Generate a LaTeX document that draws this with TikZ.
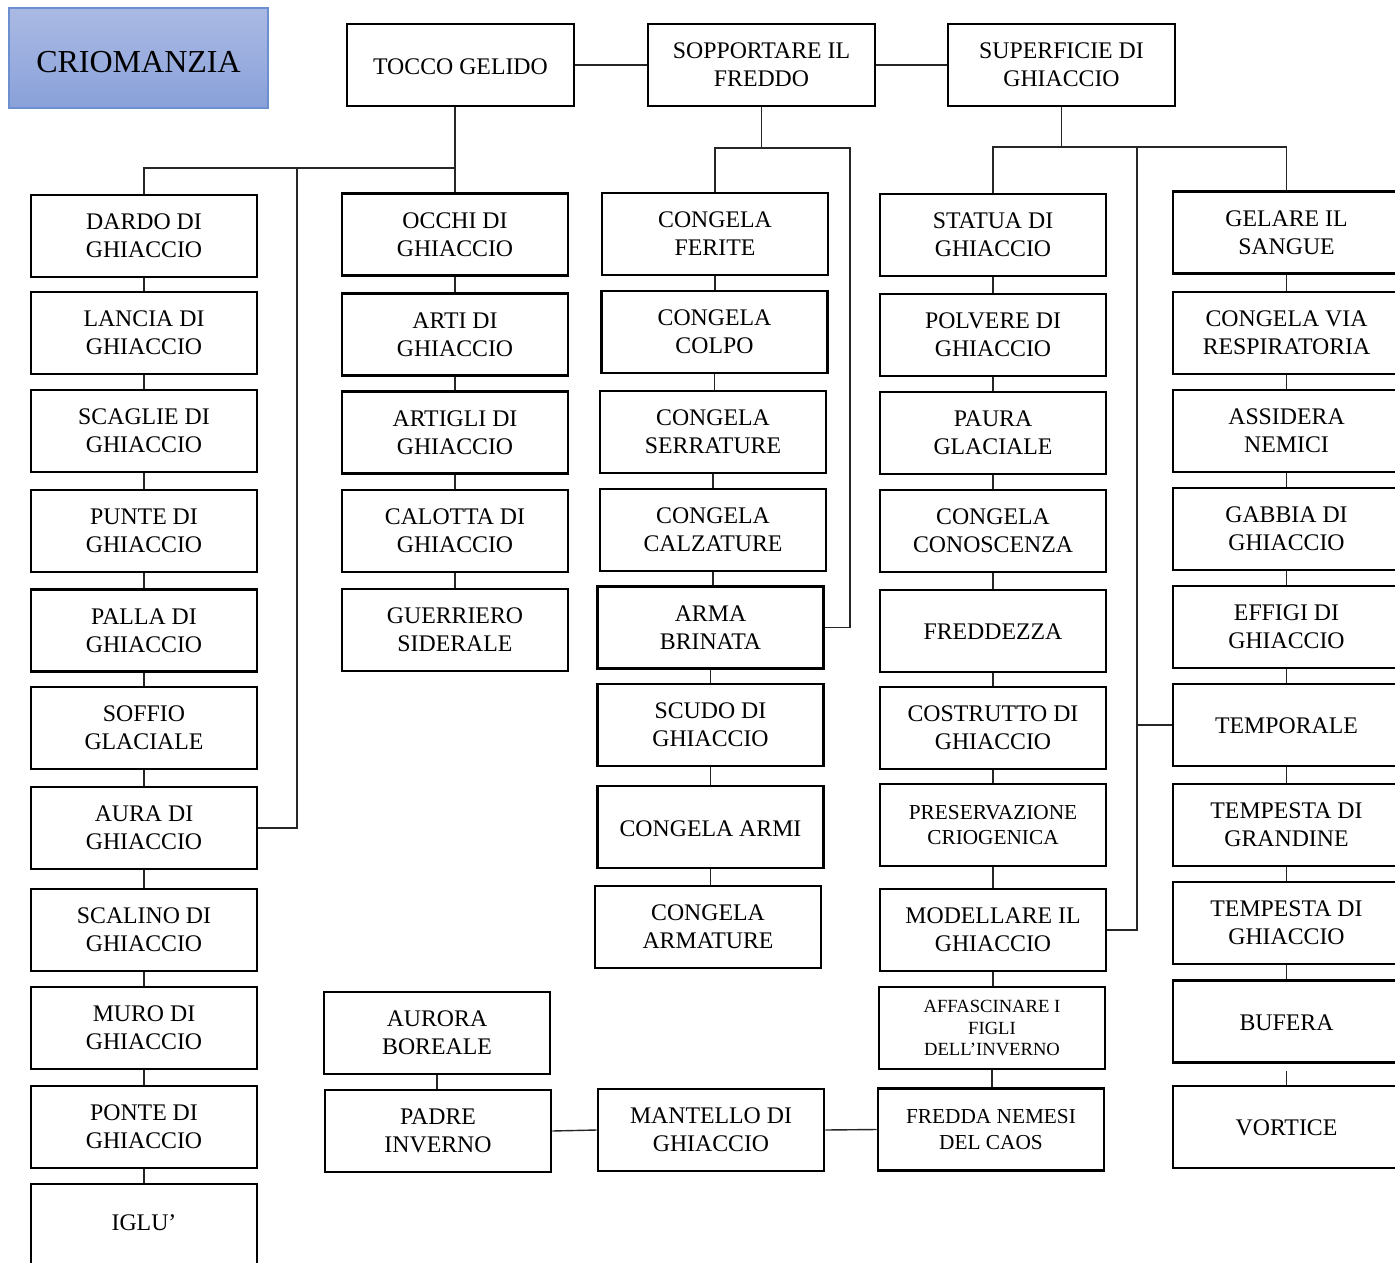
\documentclass[tikz,border=0pt]{standalone}
\usepackage{fontspec}
\setmainfont{Liberation Serif}
\usetikzlibrary{calc}
\definecolor{titletop}{RGB}{171,186,228}
\definecolor{titlebot}{RGB}{137,161,217}
\definecolor{titleline}{RGB}{108,143,208}
% move a one-line label up or down without changing its reported size
\newcommand{\nudge}[2]{\raisebox{#1}[\height][\depth]{#2}}
\begin{document}
\begin{tikzpicture}[x=1pt,y=-1pt,
  box/.style={draw=black, line width=2.6pt, fill=white, minimum width=226pt,
    minimum height=82pt, inner sep=0pt, align=center,
    font=\fontsize{23.8}{28}\selectfont},
  smallbox/.style={box, font=\fontsize{21.3}{25.5}\selectfont},
  tinybox/.style={box, font=\fontsize{18.6}{21.5}\selectfont},
  link/.style={draw=black!85, line width=1.4pt},
]
\clip (0,0) rectangle (1395,1263);
\fill[white] (0,0) rectangle (1395,1263);

% title
\node[draw=titleline, line width=1.2pt, top color=titletop, bottom color=titlebot,
  minimum width=259pt, minimum height=100pt, inner sep=0pt,
  font=\fontsize{32}{36}\selectfont] (title) at (138.5,58) {\nudge{-4pt}{CRIOMANZIA}};

% top row
\node[box, minimum width=227pt] (tocco) at (460.5,65) {\nudge{-1.5pt}{TOCCO GELIDO}};
\node[box, minimum width=227pt] (sopportare) at (761.5,65) {SOPPORTARE IL\\FREDDO};
\node[box, minimum width=227pt] (superficie) at (1061.5,65) {SUPERFICIE DI\\GHIACCIO};

% first column
\node[box] (dardo)   at (144,236)  {DARDO DI\\GHIACCIO};
\node[box] (lancia)  at (144,333)  {LANCIA DI\\GHIACCIO};
\node[box] (scaglie) at (144,431)  {SCAGLIE DI\\GHIACCIO};
\node[box] (punte)   at (144,531)  {PUNTE DI\\GHIACCIO};
\node[box] (palla)   at (144,630.5){PALLA DI\\GHIACCIO};
\node[box] (soffio)  at (144,728)  {SOFFIO\\GLACIALE};
\node[box] (aura)    at (144,828)  {AURA DI\\GHIACCIO};
\node[box] (scalino) at (144,930)  {SCALINO DI\\GHIACCIO};
\node[box] (muro)    at (144,1028) {MURO DI\\GHIACCIO};
\node[box] (ponte)   at (144,1127) {PONTE DI\\GHIACCIO};
\node[box] (iglu)    at (144,1225) {\nudge{2pt}{IGLU’}};

% second column
\node[box] (occhi)     at (455,234.5) {OCCHI DI\\GHIACCIO};
\node[box] (arti)      at (455,334.5) {ARTI DI\\GHIACCIO};
\node[box] (artigli)   at (455,432.5) {ARTIGLI DI\\GHIACCIO};
\node[box] (calotta)   at (455,531)   {CALOTTA DI\\GHIACCIO};
\node[box] (guerriero) at (455,630)   {GUERRIERO\\SIDERALE};

% third column
\node[box] (ferite)    at (715,234)   {CONGELA\\FERITE};
\node[box] (colpo)     at (714.5,332) {CONGELA\\COLPO};
\node[box] (serrature) at (713,432)   {CONGELA\\SERRATURE};
\node[box] (calzature) at (713,530)   {CONGELA\\CALZATURE};
\node[box] (arma)      at (710.5,627.5) {ARMA\\BRINATA};
\node[box] (scudo)     at (710.5,725) {SCUDO DI\\GHIACCIO};
\node[box] (armi)      at (710.5,827) {\nudge{-1.5pt}{CONGELA ARMI}};
\node[box] (armature)  at (708,927)   {CONGELA\\ARMATURE};

% fourth column
\node[box] (statua)      at (993,235)  {STATUA DI\\GHIACCIO};
\node[box] (polvere)     at (993,335)  {POLVERE DI\\GHIACCIO};
\node[box] (paura)       at (993,433)  {PAURA\\GLACIALE};
\node[box] (conoscenza)  at (993,531)  {CONGELA\\CONOSCENZA};
\node[box] (freddezza)   at (993,631)  {\nudge{-1pt}{FREDDEZZA}};
\node[box] (costrutto)   at (993,728)  {COSTRUTTO DI\\GHIACCIO};
\node[smallbox] (preserv) at (993,825) {PRESERVAZIONE\\CRIOGENICA};
\node[box] (modellare)   at (993,930)  {MODELLARE IL\\GHIACCIO};
\node[tinybox] (affascinare) at (992,1028) {AFFASCINARE I\\FIGLI\\DELL’INVERNO};
\node[smallbox] (nemesi) at (991,1129.5) {FREDDA NEMESI\\DEL CAOS};

% fifth column
\node[box, minimum width=227pt] (gelare)       at (1286.5,232.5) {GELARE IL\\SANGUE};
\node[box, minimum width=227pt] (respiratoria) at (1286.5,333)   {CONGELA VIA\\RESPIRATORIA};
\node[box, minimum width=227pt] (assidera)     at (1286.5,431)   {ASSIDERA\\NEMICI};
\node[box, minimum width=227pt] (gabbia)       at (1286.5,529)   {GABBIA DI\\GHIACCIO};
\node[box, minimum width=227pt] (effigi)       at (1286.5,627)   {EFFIGI DI\\GHIACCIO};
\node[box, minimum width=227pt] (temporale)    at (1286.5,725)   {\nudge{-1pt}{TEMPORALE}};
\node[box, minimum width=227pt] (grandine)     at (1286.5,825)   {TEMPESTA DI\\GRANDINE};
\node[box, minimum width=227pt] (tempesta)     at (1286.5,923)   {TEMPESTA DI\\GHIACCIO};
\node[box, minimum width=227pt] (bufera)       at (1286.5,1021.5){\nudge{-1pt}{BUFERA}};
\node[box, minimum width=227pt] (vortice)      at (1286.5,1127)  {\nudge{-1pt}{VORTICE}};

% bottom row
\node[box] (aurora)   at (437,1033) {AURORA\\BOREALE};
\node[box] (padre)    at (438,1131) {PADRE\\INVERNO};
\node[box] (mantello) at (711,1130) {MANTELLO DI\\GHIACCIO};

% bus levels
\coordinate (busT) at (0,168);
\coordinate (busS) at (0,148);
\coordinate (busF) at (0,147);
\coordinate (auraV) at (297,168);
\coordinate (armaV) at (850,148);
\coordinate (tempV) at (1137,147);

% links in the top row
\draw[link] (tocco.east) -- (sopportare.west);
\draw[link] (sopportare.east) -- (superficie.west);

% branch under TOCCO GELIDO
\draw[link] (occhi.north |- tocco.south) -- (occhi.north);
\draw[link] (dardo.north) -- (dardo.north |- busT) -- (occhi.north |- busT);
\draw[link] (auraV) |- (aura.east);

% branch under SOPPORTARE IL FREDDO
\draw[link] (sopportare.south) -- (sopportare.south |- busS);
\draw[link] (ferite.north) -- (ferite.north |- busS) -- (armaV) |- (arma.east);

% branch under SUPERFICIE DI GHIACCIO
\draw[link] (superficie.south) -- (superficie.south |- busF);
\draw[link] (statua.north) -- (statua.north |- busF) -- (gelare.north |- busF) -- (gelare.north);
\draw[link] (tempV) |- (modellare.east);
\draw[link] (tempV |- temporale.west) -- (temporale.west);

% vertical chains
\foreach \a/\b in {dardo/lancia, lancia/scaglie, scaglie/punte, punte/palla,
    palla/soffio, soffio/aura, aura/scalino, scalino/muro, muro/ponte, ponte/iglu,
    occhi/arti, arti/artigli, artigli/calotta, calotta/guerriero,
    ferite/colpo, colpo/serrature, serrature/calzature, calzature/arma,
    arma/scudo, scudo/armi, armi/armature,
    statua/polvere, polvere/paura, paura/conoscenza, conoscenza/freddezza,
    freddezza/costrutto, costrutto/preserv, preserv/modellare,
    modellare/affascinare, affascinare/nemesi,
    gelare/respiratoria, respiratoria/assidera, assidera/gabbia, gabbia/effigi,
    effigi/temporale, temporale/grandine, grandine/tempesta, tempesta/bufera,
    aurora/padre}
  \draw[link] (\a.south) -- (\a.south |- \b.north);
\draw[link] ($(bufera.south)+(0,7)$) -- (bufera.south |- vortice.north);

% bottom row links
\draw[link] (padre.east) -- (mantello.west);
\draw[link] (mantello.east) -- (nemesi.west);
\end{tikzpicture}
\end{document}
